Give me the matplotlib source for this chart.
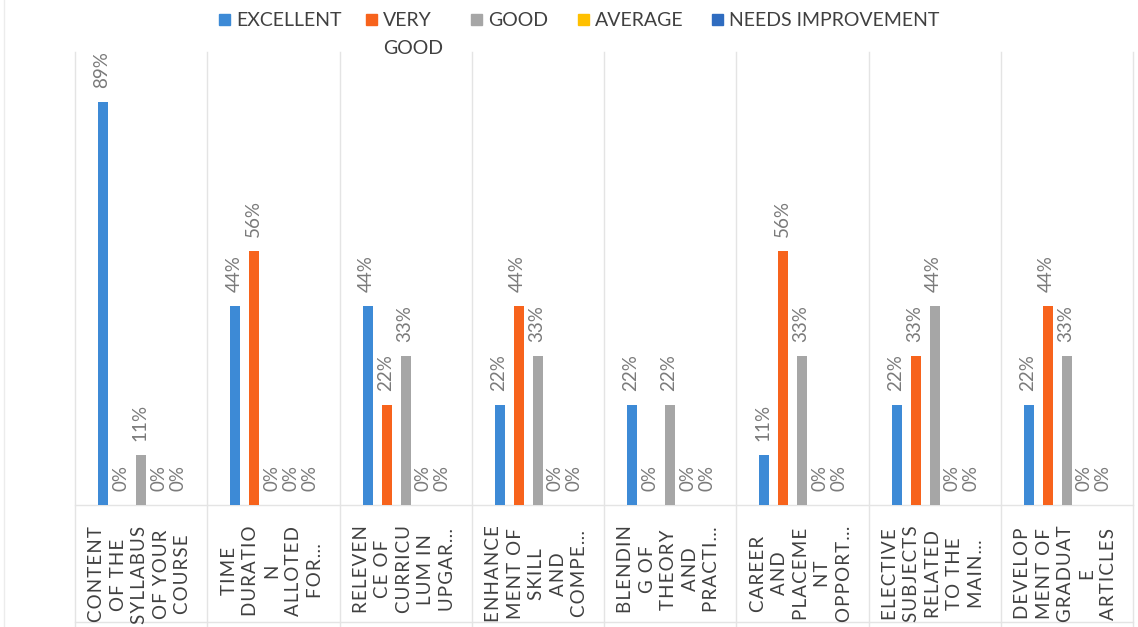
import matplotlib
matplotlib.use("Agg")
import matplotlib.pyplot as plt
from matplotlib.patches import Rectangle
from matplotlib.lines import Line2D
import numpy as np

plt.rcParams['font.family'] = ['Lato', 'DejaVu Sans']

categories = [
    "CONTENT\nOF THE\nSYLLABUS\nOF YOUR\nCOURSE",
    "TIME\nDURATIO\nN\nALLOTED\nFOR…",
    "RELEVEN\nCE OF\nCURRICU\nLUM IN\nUPGAR…",
    "ENHANCE\nMENT OF\nSKILL\nAND\nCOMPE…",
    "BLENDIN\nG OF\nTHEORY\nAND\nPRACTI…",
    "CAREER\nAND\nPLACEME\nNT\nOPPORT…",
    "ELECTIVE\nSUBJECTS\nRELATED\nTO THE\nMAIN…",
    "DEVELOP\nMENT OF\nGRADUAT\nE\nARTICLES",
]
series_names = ["EXCELLENT", "VERY\nGOOD", "GOOD", "AVERAGE", "NEEDS IMPROVEMENT"]
excellent = [89, 44, 44, 22, 22, 11, 22, 22]
very_good = [0, 56, 22, 44, 0, 56, 33, 44]
good = [11, 0, 33, 33, 22, 33, 44, 33]
average = [0, 0, 0, 0, 0, 0, 0, 0]
needs_improvement = [0, 0, 0, 0, 0, 0, 0, 0]
colors = ["#3D8AD6", "#F7631C", "#A6A6A6", "#FFC000", "#2F6CC0"]

series = [excellent, very_good, good, average, needs_improvement]

W, H = 1138, 627
fig = plt.figure(figsize=(W / 100, H / 100), dpi=100)
ax = fig.add_axes([75 / W, (H - 505) / H, (1133 - 75) / W, (505 - 52) / H])

n = len(categories)
x = np.arange(n)
slot = 0.1437
bw = 0.076
for i, (vals, c) in enumerate(zip(series, colors)):
    xs = x + (i - 2) * slot
    ax.bar(xs, vals, width=bw, color=c, zorder=3)
    for xx, v in zip(xs, vals):
        ax.annotate(f"{v}%", (xx, v), xytext=(-1, 10), textcoords='offset points',
                    rotation=90, ha='center', va='bottom', fontsize=13.5,
                    color='#7a7a7a')

ax.set_xlim(-0.5, n - 0.5)
ax.set_ylim(0, 100)
ax.set_xticks([])
ax.set_yticks([])
for s in ax.spines.values():
    s.set_visible(False)

grid_c = '#e4e4e4'
trans = ax.get_xaxis_transform()
for b in np.arange(n + 1) - 0.5:
    ax.add_line(Line2D([b, b], [-0.3, 1.0], transform=trans, color=grid_c,
                       lw=1.0, clip_on=False, zorder=1))
ax.add_line(Line2D([-0.5, n - 0.5], [0, 0], transform=trans, color=grid_c,
                   lw=1.0, clip_on=False, zorder=1))
ax.add_line(Line2D([-0.5, n - 0.5], [-0.258, -0.258], transform=trans, color=grid_c,
                   lw=1.0, clip_on=False, zorder=1))
# outer chart border (left)
fig.add_artist(Line2D([4 / W, 4 / W], [0, 1], color='#ececec', lw=1.0))

# category labels with letter spacing
def spaced(s):
    return "\n".join("\u200a".join(list(line)) for line in s.split("\n"))

for xi, lab in zip(x, categories):
    ax.text(xi - 0.01, -0.045, spaced(lab), transform=trans, rotation=90,
            ha='center', va='top', multialignment='center', fontsize=13.5,
            color='#404040', linespacing=1.32)

# legend (manual)
leg_x = [219, 366, 471, 578, 712]
for lx, name, c in zip(leg_x, series_names, colors):
    fig.add_artist(Rectangle((lx / W, 1 - 25 / H), 11 / W, 11 / H, color=c,
                             transform=fig.transFigure))
    fig.text((lx + 17) / W, 1 - 12 / H, name, ha='left', va='top',
             fontsize=14, color='#404040', linespacing=1.75)

fig.savefig("out.png", dpi=100, facecolor='white')
